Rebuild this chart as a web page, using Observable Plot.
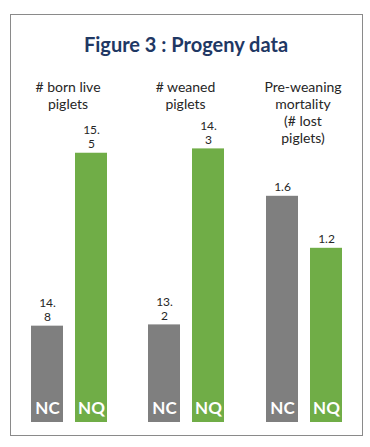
<!DOCTYPE html>
<html>
<head>
<meta charset="utf-8">
<script src="https://cdn.jsdelivr.net/npm/d3@7"></script>
<script src="https://cdn.jsdelivr.net/npm/@observablehq/plot@0.6"></script>
<style>
  html, body { margin: 0; padding: 0; background: #fff; }
  #wrap { position: relative; width: 370px; height: 447px; overflow: hidden; font-family: Lato, "Open Sans", sans-serif; }
  #frame { position: absolute; left: 10px; top: 14px; width: 351px; height: 420px; border: 1px solid #8a8a8a; box-sizing: content-box; }
  #title { position: absolute; left: 0; width: 372px; top: 31px; text-align: center; font-size: 20px; font-weight: bold; color: #1f3864; line-height: 26px; }
  .plabel { position: absolute; top: 78px; width: 117px; text-align: center; font-size: 14px; line-height: 17px; color: #262626; white-space: pre-line; }
  .panel { position: absolute; top: 110px; }
</style>
</head>
<body>
<div id="wrap">
  <div id="frame"></div>
  <div id="title"></div>
</div>
<script>
const titleText = "Figure 3 : Progeny data";
const panelLabels = ["# born live\npiglets", "# weaned\npiglets", "Pre-weaning\nmortality\n(# lost\npiglets)"];
const groups = ["NC", "NQ"];
const ncValues = [14.8, 13.2, 1.6];
const nqValues = [15.5, 14.3, 1.2];
const axisMin = [14.41, 12.59, -0.14];
const axisMax = [15.673, 14.54, 2.26];
const groupColors = ["#7f7f7f", "#70ad47"];

const wrap = document.getElementById("wrap");
document.getElementById("title").textContent = titleText;

const fmt = v => {
  const s = v.toFixed(1);
  return s.length > 3 ? s.replace(".", ".\n") : s;
};

const panelLeft = [9.5, 127, 244.5];

panelLabels.forEach((label, i) => {
  const lab = document.createElement("div");
  lab.className = "plabel";
  lab.style.left = panelLeft[i] + "px";
  lab.textContent = label;
  wrap.appendChild(lab);

  const rows = groups.map((g, j) => ({group: g, value: j === 0 ? ncValues[i] : nqValues[i]}));
  const base = axisMin[i];
  const chart = Plot.plot({
    width: 117,
    height: 312,
    marginTop: 0, marginBottom: 0, marginLeft: 20, marginRight: 20,
    x: {domain: groups, paddingInner: 0.273, paddingOuter: 0, axis: null},
    y: {domain: [axisMin[i], axisMax[i]], axis: null},
    color: {domain: groups, range: groupColors},
    style: {fontFamily: "Lato, 'Open Sans', sans-serif", background: "transparent", overflow: "visible"},
    marks: [
      Plot.barY(rows, {x: "group", y1: base, y2: "value", fill: "group"}),
      Plot.text(rows, {x: "group", y: "value", text: d => fmt(d.value), lineAnchor: "bottom", dy: -5, fontSize: 12, lineHeight: 1.17, fill: "#262626"}),
      Plot.text(rows, {x: "group", y: base, text: "group", dy: -14, fill: "white", fontWeight: "bold", fontSize: 17})
    ]
  });
  const holder = document.createElement("div");
  holder.className = "panel";
  holder.style.left = panelLeft[i] + "px";
  holder.appendChild(chart);
  wrap.appendChild(holder);
});
</script>
</body>
</html>
